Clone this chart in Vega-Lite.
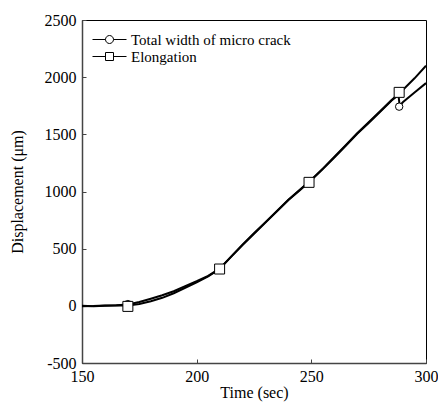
{
  "$schema": "https://vega.github.io/schema/vega-lite/v6.json",
  "width": 344,
  "height": 343,
  "autosize": "none",
  "padding": {"left": 82, "top": 20, "right": 12, "bottom": 47},
  "background": "white",
  "config": {
    "font": "Liberation Serif",
    "view": {"stroke": "black", "strokeWidth": 1},
    "axis": {
      "grid": false,
      "domainColor": "#444",
      "domainWidth": 1.5,
      "tickColor": "#444",
      "tickSize": -4,
      "labelFont": "Liberation Serif",
      "titleFont": "Liberation Serif",
      "labelColor": "black",
      "labelFontSize": 16,
      "titleColor": "black",
      "titleFontSize": 16,
      "titleFontWeight": "normal"
    },
    "legend": {"labelFont": "Liberation Serif"}
  },
  "datasets": {
    "curves": [
      {"series": "Elongation", "time": 150, "disp": 0},
      {"series": "Elongation", "time": 155, "disp": -3},
      {"series": "Elongation", "time": 160, "disp": 0},
      {"series": "Elongation", "time": 165, "disp": 2},
      {"series": "Elongation", "time": 170, "disp": 3},
      {"series": "Elongation", "time": 175, "disp": 16},
      {"series": "Elongation", "time": 180, "disp": 40},
      {"series": "Elongation", "time": 185, "disp": 70},
      {"series": "Elongation", "time": 190, "disp": 110},
      {"series": "Elongation", "time": 195, "disp": 158},
      {"series": "Elongation", "time": 200, "disp": 206},
      {"series": "Elongation", "time": 205, "disp": 258},
      {"series": "Elongation", "time": 210, "disp": 322},
      {"series": "Elongation", "time": 215, "disp": 430},
      {"series": "Elongation", "time": 220, "disp": 535},
      {"series": "Elongation", "time": 225, "disp": 635},
      {"series": "Elongation", "time": 230, "disp": 732},
      {"series": "Elongation", "time": 235, "disp": 830},
      {"series": "Elongation", "time": 240, "disp": 928},
      {"series": "Elongation", "time": 245, "disp": 1015},
      {"series": "Elongation", "time": 250, "disp": 1103},
      {"series": "Elongation", "time": 255, "disp": 1200},
      {"series": "Elongation", "time": 260, "disp": 1302},
      {"series": "Elongation", "time": 265, "disp": 1405},
      {"series": "Elongation", "time": 270, "disp": 1510},
      {"series": "Elongation", "time": 275, "disp": 1605},
      {"series": "Elongation", "time": 280, "disp": 1702},
      {"series": "Elongation", "time": 285, "disp": 1800},
      {"series": "Elongation", "time": 289, "disp": 1870},
      {"series": "Elongation", "time": 295, "disp": 1990},
      {"series": "Elongation", "time": 300, "disp": 2100},
      {"series": "Total width of micro crack", "time": 150, "disp": -3},
      {"series": "Total width of micro crack", "time": 155, "disp": -2},
      {"series": "Total width of micro crack", "time": 160, "disp": 2},
      {"series": "Total width of micro crack", "time": 165, "disp": 5},
      {"series": "Total width of micro crack", "time": 170, "disp": 12},
      {"series": "Total width of micro crack", "time": 175, "disp": 34},
      {"series": "Total width of micro crack", "time": 180, "disp": 62},
      {"series": "Total width of micro crack", "time": 185, "disp": 92},
      {"series": "Total width of micro crack", "time": 190, "disp": 128},
      {"series": "Total width of micro crack", "time": 195, "disp": 172},
      {"series": "Total width of micro crack", "time": 200, "disp": 215},
      {"series": "Total width of micro crack", "time": 205, "disp": 262},
      {"series": "Total width of micro crack", "time": 210, "disp": 325},
      {"series": "Total width of micro crack", "time": 215, "disp": 428},
      {"series": "Total width of micro crack", "time": 220, "disp": 532},
      {"series": "Total width of micro crack", "time": 225, "disp": 630},
      {"series": "Total width of micro crack", "time": 230, "disp": 728},
      {"series": "Total width of micro crack", "time": 235, "disp": 826},
      {"series": "Total width of micro crack", "time": 240, "disp": 925},
      {"series": "Total width of micro crack", "time": 245, "disp": 1012},
      {"series": "Total width of micro crack", "time": 250, "disp": 1100},
      {"series": "Total width of micro crack", "time": 255, "disp": 1196},
      {"series": "Total width of micro crack", "time": 260, "disp": 1298},
      {"series": "Total width of micro crack", "time": 265, "disp": 1400},
      {"series": "Total width of micro crack", "time": 270, "disp": 1505},
      {"series": "Total width of micro crack", "time": 275, "disp": 1600},
      {"series": "Total width of micro crack", "time": 280, "disp": 1697},
      {"series": "Total width of micro crack", "time": 285, "disp": 1795},
      {"series": "Total width of micro crack", "time": 288, "disp": 1845},
      {"series": "Total width of micro crack", "time": 288.5, "disp": 1750},
      {"series": "Total width of micro crack", "time": 290, "disp": 1783},
      {"series": "Total width of micro crack", "time": 295, "disp": 1866},
      {"series": "Total width of micro crack", "time": 300, "disp": 1948}
    ],
    "markers": [
      {"series": "Total width of micro crack", "time": 170, "disp": 15},
      {"series": "Total width of micro crack", "time": 210, "disp": 322},
      {"series": "Total width of micro crack", "time": 249, "disp": 1080},
      {"series": "Total width of micro crack", "time": 288.3, "disp": 1742},
      {"series": "Elongation", "time": 170, "disp": -5},
      {"series": "Elongation", "time": 210, "disp": 322},
      {"series": "Elongation", "time": 249, "disp": 1080},
      {"series": "Elongation", "time": 288.3, "disp": 1867}
    ]
  },
  "encoding": {
    "x": {
      "field": "time", "type": "quantitative",
      "scale": {"domain": [150, 300], "nice": false},
      "axis": {"values": [150, 200, 250, 300], "format": "d", "title": "Time (sec)", "labelPadding": 9, "titlePadding": 0, "labelFlush": false}
    },
    "y": {
      "field": "disp", "type": "quantitative",
      "scale": {"domain": [-500, 2500], "nice": false},
      "axis": {
        "values": [-500, 0, 500, 1000, 1500, 2000, 2500],
        "labelExpr": "datum.value < 0 ? '-' + format(-datum.value, 'd') : format(datum.value, 'd')",
        "title": "Displacement (μm)", "labelPadding": 10, "titlePadding": 19, "labelFlush": false
      }
    }
  },
  "layer": [
    {
      "data": {"name": "curves"},
      "mark": {"type": "line", "color": "black", "strokeWidth": 2, "clip": true},
      "encoding": {"detail": {"field": "series", "type": "nominal"}}
    },
    {
      "data": {"name": "markers"},
      "transform": [{"filter": "datum.series === 'Total width of micro crack'"}],
      "mark": {"type": "point", "shape": "circle", "size": 55, "filled": true, "fill": "white", "stroke": "black", "strokeWidth": 1, "opacity": 1}
    },
    {
      "data": {"name": "markers"},
      "transform": [{"filter": "datum.series === 'Elongation'"}],
      "mark": {"type": "point", "shape": "square", "size": 100, "filled": true, "fill": "white", "stroke": "black", "strokeWidth": 1, "opacity": 1}
    },
    {
      "data": {"name": "markers"},
      "transform": [{"filter": "datum.time < 0"}],
      "mark": {"type": "point", "filled": false, "stroke": "black", "strokeWidth": 1, "opacity": 1},
      "encoding": {
        "shape": {
          "field": "series", "type": "nominal",
          "scale": {
            "domain": ["Total width of micro crack", "Elongation"],
            "range": ["M-4.25,0H-1M1,0H4.25M-1,0A1,1 0 1,1 1,0A1,1 0 1,1 -1,0Z", "M-4.25,0H-1M1,0H4.25M-1,-1H1V1H-1Z"]
          },
          "legend": {
            "title": null,
            "orient": "none",
            "legendX": 20,
            "legendY": 12,
            "padding": 0,
            "symbolSize": 64,
            "symbolOpacity": 1,
            "symbolFillColor": "white",
            "symbolStrokeColor": "black",
            "symbolStrokeWidth": 1,
            "labelFontSize": 15,
            "labelColor": "black",
            "labelOffset": 14,
            "labelLimit": 300,
            "rowPadding": 1
          }
        }
      }
    }
  ]
}
